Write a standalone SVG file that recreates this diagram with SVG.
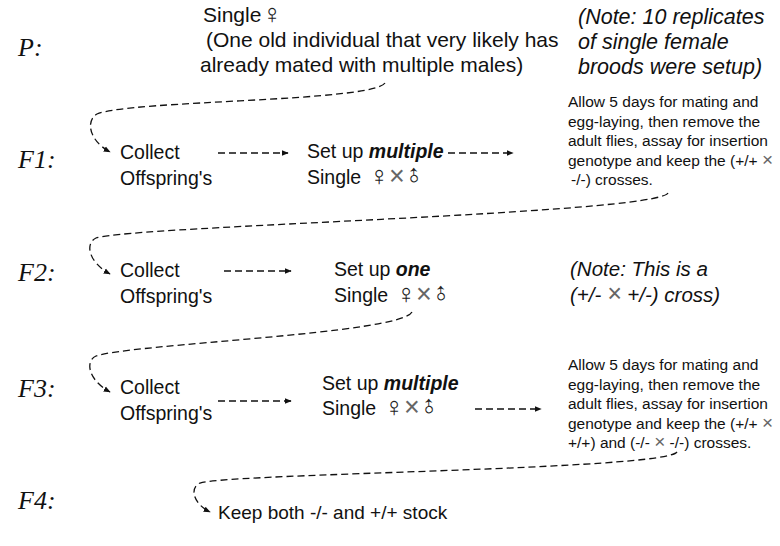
<svg xmlns="http://www.w3.org/2000/svg" width="780" height="546" viewBox="0 0 780 546">
  <style>
    .gen { font-family: "Liberation Serif", serif; font-style: italic; font-size: 26px; fill: #111; }
    .t { font-family: "Liberation Sans", Arial, sans-serif; font-size: 19.5px; fill: #111; }
    .p { font-size: 21px; }
    .note { font-family: "Liberation Sans", Arial, sans-serif; font-style: italic; font-size: 20.5px; fill: #111; }
    .note-p { font-size: 21.5px; }
    .small { font-family: "Liberation Sans", Arial, sans-serif; font-size: 15.5px; fill: #111; }
    .sym { font-family: "Liberation Sans", Arial, sans-serif; font-size: 27px; fill: #222; text-anchor: middle; }
    .cross { font-family: "Liberation Sans", Arial, sans-serif; font-size: 27px; fill: #666; text-anchor: middle; }
    .x { fill: #666; }
    .xs { font-size: 19px; }
    .link { fill: none; stroke: #111; stroke-width: 1.3; stroke-dasharray: 7 4; marker-end: url(#arrow); }
  </style>
  <defs>
    <marker id="arrow" viewBox="0 0 10 10" refX="9" refY="5" markerWidth="7" markerHeight="7" markerUnits="userSpaceOnUse" orient="auto">
      <path d="M0,1 L10,5 L0,9 Z" fill="#111"/>
    </marker>
  </defs>

  <rect width="780" height="546" fill="#fff"/>

  <!-- generation labels -->
  <g id="labels">
    <text class="gen" x="18" y="56">P:</text>
    <text class="gen" x="18" y="168">F1:</text>
    <text class="gen" x="18" y="281">F2:</text>
    <text class="gen" x="18" y="397">F3:</text>
    <text class="gen" x="18" y="509">F4:</text>
  </g>

  <!-- parent -->
  <g id="parent">
    <text class="t p" x="203" y="22">Single</text>
    <text class="sym" x="272" y="23">♀</text>
    <text class="t p" x="206" y="47">(One old individual that very likely has</text>
    <text class="t p" x="200" y="72">already mated with multiple males)</text>
  </g>
  <g id="note-p">
    <text class="note note-p" x="578" y="24">(Note: 10 replicates</text>
    <text class="note note-p" x="578" y="49">of single female</text>
    <text class="note note-p" x="578" y="74">broods were setup)</text>
  </g>

  <!-- F1 -->
  <g id="f1-collect">
    <text class="t" x="120" y="159">Collect</text>
    <text class="t" x="120" y="185">Offspring's</text>
  </g>
  <g id="f1-cross">
    <text class="t" x="307" y="158">Set up <tspan font-weight="bold" font-style="italic">multiple</tspan></text>
    <text class="t" x="307" y="184">Single</text>
    <text class="sym" x="379" y="185">♀</text>
    <text class="cross" x="397" y="185">×</text>
    <text class="sym" transform="translate(414,176) rotate(-45)" dominant-baseline="central">♂</text>
  </g>
  <g id="f1-assay">
    <text class="small" x="568" y="107">Allow 5 days for mating and</text>
    <text class="small" x="568" y="127">egg-laying, then remove the</text>
    <text class="small" x="568" y="146">adult flies, assay for insertion</text>
    <text class="small" x="568" y="166">genotype and keep the (+/+ <tspan class="x xs">×</tspan></text>
    <text class="small" x="571" y="185">-/-) crosses.</text>
  </g>

  <!-- F2 -->
  <g id="f2-collect">
    <text class="t" x="120" y="277">Collect</text>
    <text class="t" x="120" y="303">Offspring's</text>
  </g>
  <g id="f2-cross">
    <text class="t" x="334" y="276">Set up <tspan font-weight="bold" font-style="italic">one</tspan></text>
    <text class="t" x="334" y="302">Single</text>
    <text class="sym" x="406" y="303">♀</text>
    <text class="cross" x="424" y="303">×</text>
    <text class="sym" transform="translate(441,294) rotate(-45)" dominant-baseline="central">♂</text>
  </g>
  <g id="note-f2">
    <text class="note" x="570" y="276">(Note: This is a</text>
    <text class="note" x="570" y="302">(+/- <tspan class="x" style="font-size:25px">×</tspan> +/-) cross)</text>
  </g>

  <!-- F3 -->
  <g id="f3-collect">
    <text class="t" x="120" y="394">Collect</text>
    <text class="t" x="120" y="420">Offspring's</text>
  </g>
  <g id="f3-cross">
    <text class="t" x="322" y="390">Set up <tspan font-weight="bold" font-style="italic">multiple</tspan></text>
    <text class="t" x="322" y="415">Single</text>
    <text class="sym" x="394" y="416">♀</text>
    <text class="cross" x="412" y="416">×</text>
    <text class="sym" transform="translate(429,407) rotate(-45)" dominant-baseline="central">♂</text>
  </g>
  <g id="f3-assay">
    <text class="small" x="568" y="370">Allow 5 days for mating and</text>
    <text class="small" x="568" y="390">egg-laying, then remove the</text>
    <text class="small" x="568" y="409">adult flies, assay for insertion</text>
    <text class="small" x="568" y="429">genotype and keep the (+/+ <tspan class="x xs">×</tspan></text>
    <text class="small" x="568" y="448">+/+) and (-/- <tspan class="x xs">×</tspan> -/-) crosses.</text>
  </g>

  <!-- F4 -->
  <g id="f4-stock">
    <text class="t" x="218" y="519" style="font-size:19px">Keep both -/- and +/+ stock</text>
  </g>

  <!-- connectors -->
  <g id="connectors">
    <path class="link" d="M385,83 C372,102 130,100 97,114 C86,120 88,140 110,152"/>
    <line class="link" x1="218" y1="153" x2="288" y2="153"/>
    <line class="link" x1="448" y1="153" x2="513" y2="153"/>
    <path class="link" d="M668,193 C655,214 130,226 96,238 C85,243 88,262 110,274"/>
    <line class="link" x1="224" y1="271" x2="291" y2="271"/>
    <path class="link" d="M412,312 C400,334 130,344 96,356 C85,361 88,380 110,392"/>
    <line class="link" x1="218" y1="401" x2="291" y2="401"/>
    <line class="link" x1="475" y1="409" x2="541" y2="409"/>
    <path class="link" d="M677,452 C664,470 235,473 200,483 C190,487 192,503 210,512"/>
  </g>
</svg>
